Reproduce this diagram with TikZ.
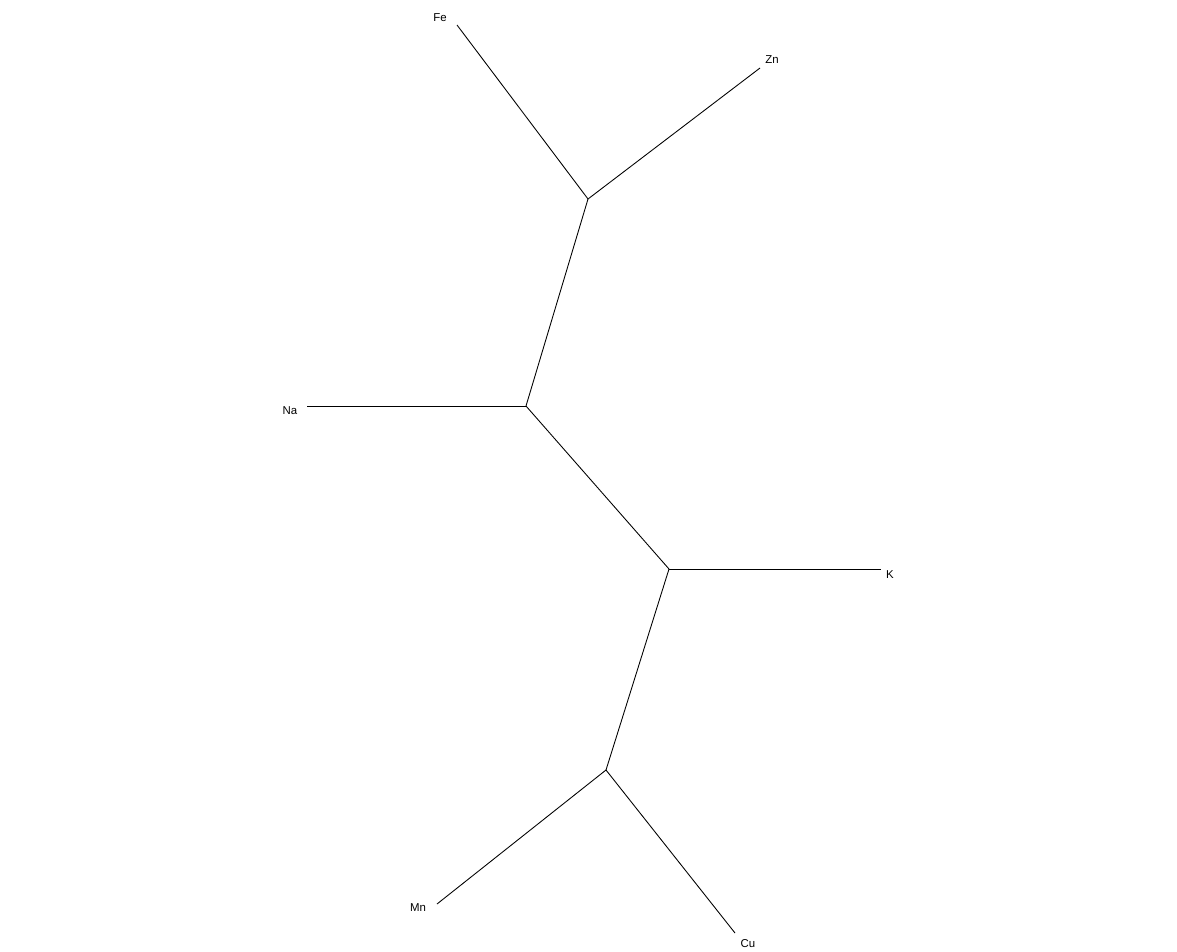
\documentclass[tikz,border=0pt]{standalone}
\usepackage{fontspec}
\setmainfont{Liberation Sans}
\begin{document}
\begin{tikzpicture}[x=0.02cm,y=-0.02cm]

  % One unit = one pixel of the original plot, y running downwards.
  \useasboundingbox (0,0) rectangle (1177,951);
  \tikzset{leaf/.style={inner sep=0pt,font=\fontsize{6.5}{7}\selectfont},
           branch/.style={line width=0.5pt}}

  % Inner nodes of the unrooted tree
  \coordinate (top) at (588,199);
  \coordinate (mid) at (526,406);
  \coordinate (low) at (669,569);
  \coordinate (bot) at (606,770);

  % Branch tips
  \coordinate (feend) at (457,25);
  \coordinate (znend) at (760,68);
  \coordinate (naend) at (307,406);
  \coordinate (kend)  at (881,569);
  \coordinate (mnend) at (437,904);
  \coordinate (cuend) at (735,933);

  % Element labels
  \node[leaf] (fe) at (440,18)  {Fe};
  \node[leaf] (zn) at (772,60)  {Zn};
  \node[leaf] (na) at (290,411) {Na};
  \node[leaf] (k)  at (890,575) {K};
  \node[leaf] (mn) at (418,908) {Mn};
  \node[leaf] (cu) at (748,944) {Cu};

  % Inner branches
  \draw[branch] (top) -- (mid) -- (low) -- (bot);

  % Outer branches
  \draw[branch] (feend) -- (top) -- (znend);
  \draw[branch] (naend) -- (mid);
  \draw[branch] (low) -- (kend);
  \draw[branch] (mnend) -- (bot) -- (cuend);

\end{tikzpicture}
\end{document}
